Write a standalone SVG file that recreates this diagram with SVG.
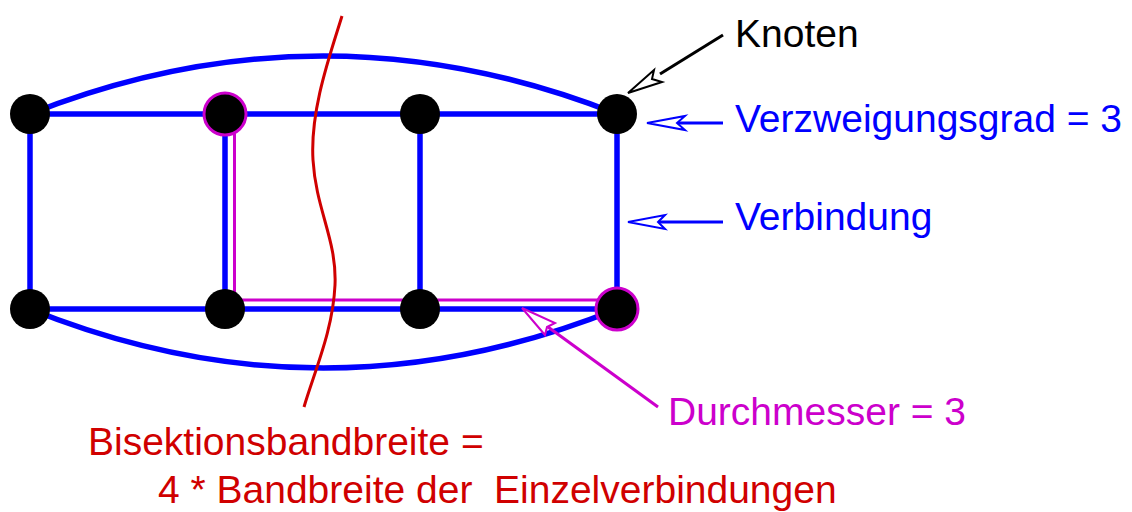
<svg xmlns="http://www.w3.org/2000/svg" width="1132" height="512" viewBox="0 0 1132 512">
<style>
.e{fill:none;stroke:#0000ff;stroke-width:5.5}
.n{fill:#000}
.hl{stroke:#cc00cc;stroke-width:3}
.t{font-family:"Liberation Sans",Arial,sans-serif;font-size:39px}
</style>
<rect width="1132" height="512" fill="#fff"/>
<g id="connectors">
<path class="e" d="M30,114 Q323,-2 617,114"/>
<path class="e" d="M30,309 Q323,427 617,309"/>
<path class="e" d="M30,114 H617 M30,309 H617 M30,114 V309 M225,114 V309 M420,114 V309 M617,114 V309"/>
<path d="M234.5,130 V300 H600" fill="none" stroke="#cc00cc" stroke-width="3"/>
<path d="M342,16 C330,55 310,110 313,160 C316,210 337,240 335,285 C333,330 315,370 304,407" fill="none" stroke="#d00000" stroke-width="3"/>
<g id="arrow-knoten">
<line x1="723" y1="35" x2="660" y2="74" stroke="#000" stroke-width="3"/>
<polygon points="628,93 654,70 652,79 662,82" fill="#fff" stroke="#000" stroke-width="2"/>
</g>
<g id="arrow-grad">
<line x1="723" y1="123" x2="676" y2="123" stroke="#0000ff" stroke-width="3"/>
<polygon points="647,123 685,116 677,123 685,130" fill="#fff" stroke="#0000ff" stroke-width="2"/>
</g>
<g id="arrow-verbindung">
<line x1="723" y1="222" x2="658" y2="222" stroke="#0000ff" stroke-width="3"/>
<polygon points="628,222 665,215 658,222 665,229" fill="#fff" stroke="#0000ff" stroke-width="2"/>
</g>
<g id="arrow-durchmesser">
<line x1="658" y1="407" x2="548" y2="327" stroke="#cc00cc" stroke-width="3"/>
<polygon points="522,308 555,323 547,327 545,335" fill="#fff" stroke="#cc00cc" stroke-width="2"/>
</g>
</g>
<g id="n1"><circle class="n" cx="30" cy="114" r="20"/></g>
<g id="n2"><circle class="n hl" cx="225" cy="114" r="21"/></g>
<g id="n3"><circle class="n" cx="420" cy="114" r="20"/></g>
<g id="n4"><circle class="n" cx="617" cy="114" r="20"/></g>
<g id="n5"><circle class="n" cx="30" cy="309" r="20"/></g>
<g id="n6"><circle class="n" cx="225" cy="309" r="20"/></g>
<g id="n7"><circle class="n" cx="420" cy="309" r="20"/></g>
<g id="n8"><circle class="n hl" cx="617" cy="309" r="21"/></g>
<g id="labels">
<text class="t" x="735" y="47" fill="#000">Knoten</text>
<text class="t" x="735" y="132" fill="#0000ff">Verzweigungsgrad = 3</text>
<text class="t" x="735" y="230" fill="#0000ff">Verbindung</text>
<text class="t" x="668" y="425" fill="#cc00cc">Durchmesser = 3</text>
<text class="t" x="88" y="455" fill="#d00000">Bisektionsbandbreite =</text>
<text class="t" x="158" y="503" fill="#d00000" xml:space="preserve">4 * Bandbreite der  Einzelverbindungen</text>
</g>
</svg>
